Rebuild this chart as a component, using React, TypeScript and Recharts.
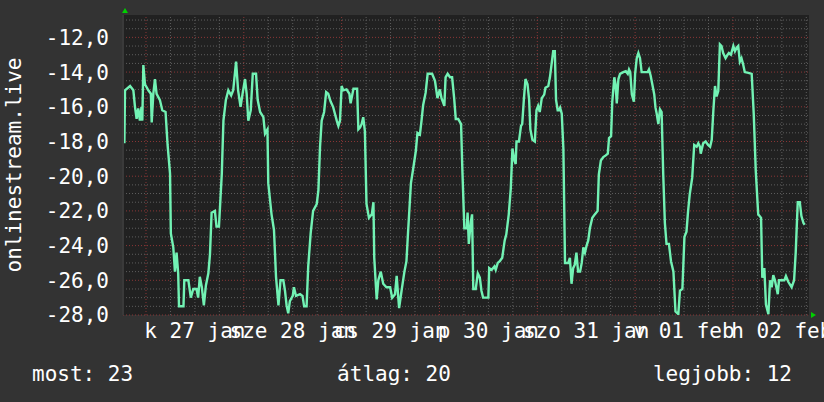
import { LineChart, Line, XAxis, YAxis, CartesianGrid, ReferenceLine, ReferenceDot } from 'recharts';

// hours since 27 jan 00:00
const hours = [
  -5.3, -5.15, -3.9, -3.1, -2.7, -2.3, -1.9, -1.5, -1.1, -0.9, -0.65, -0.25, 0.57, 1.2, 1.4, 1.8, 2.2, 2.6, 3.4, 4.0,
  4.8, 5.3, 5.9, 6.1, 6.7, 7.1, 7.5, 7.9, 8.1, 9.2, 9.4, 10.4, 11.0, 11.6, 12.4, 12.8, 13.2, 13.7, 14.2, 14.7,
  15.3, 15.7, 16.1, 16.9, 17.3, 17.9, 18.2, 18.6, 19.0, 19.6, 20.2, 20.9, 21.4, 22.1, 22.6, 23.2, 23.7, 24.3, 24.7, 25.1,
  25.7, 26.2, 27.0, 27.4, 28.0, 28.8, 29.2, 29.8, 30.0, 30.8, 31.4, 31.9, 32.5, 33.0, 33.7, 34.1, 34.5, 34.9, 35.3, 36.0,
  36.3, 36.8, 37.8, 38.4, 38.8, 39.4, 39.8, 40.4, 41.0, 41.9, 42.3, 42.7, 43.1, 43.7, 44.2, 44.7, 45.3, 45.9, 46.8, 47.2,
  47.6, 48.0, 48.4, 49.2, 49.9, 50.2, 50.9, 51.8, 52.1, 52.5, 52.9, 53.3, 53.7, 54.1, 54.7, 55.4, 55.8, 56.0, 56.6, 57.0,
  57.6, 58.2, 59.0, 59.9, 60.4, 61.1, 61.5, 61.9, 62.1, 62.7, 63.4, 63.9, 64.3, 65.0, 65.6, 66.2, 66.6, 67.2, 67.6, 68.0,
  68.6, 69.1, 69.7, 70.2, 70.9, 71.5, 72.1, 72.5, 73.2, 73.5, 74.0, 74.6, 75.1, 75.6, 76.0, 76.6, 77.3, 77.6, 78.1, 78.7,
  78.9, 79.2, 79.7, 80.0, 80.3, 80.9, 81.4, 81.9, 82.3, 82.7, 83.5, 84.0, 84.2, 84.8, 85.5, 85.8, 86.3, 86.8, 87.4, 88.0,
  88.4, 89.0, 89.5, 89.9, 90.4, 90.7, 90.9, 91.5, 92.0, 92.3, 92.7, 93.1, 93.6, 94.0, 94.3, 94.8, 95.4, 95.8, 96.2, 96.6,
  97.1, 97.7, 98.0, 98.7, 99.1, 99.5, 99.9, 100.3, 100.6, 101.0, 101.3, 101.6, 102.0, 102.4, 102.8, 103.6, 104.0, 104.4, 104.8, 105.2,
  105.6, 106.0, 106.5, 106.9, 107.3, 107.7, 108.1, 108.5, 108.9, 109.5, 110.1, 110.8, 111.1, 111.6, 112.2, 112.8, 113.3, 113.6, 114.1, 114.4,
  114.9, 115.2, 115.5, 115.9, 116.3, 117.1, 117.7, 118.2, 118.5, 118.8, 119.2, 119.7, 120.0, 120.4, 120.8, 121.2, 121.6, 122.4, 123.1, 123.4,
  123.8, 124.3, 124.7, 125.0, 125.3, 125.7, 126.1, 126.5, 126.9, 127.3, 127.7, 128.3, 128.8, 129.4, 129.9, 130.6, 131.0, 131.6, 132.1, 132.6,
  133.0, 133.4, 134.0, 134.5, 135.1, 135.5, 135.9, 136.1, 136.7, 137.3, 137.9, 138.4, 138.8, 139.2, 139.6, 140.0, 140.4, 140.8, 141.2, 141.6,
  142.2, 142.7, 143.0, 143.5, 144.1, 144.5, 144.9, 145.3, 145.7, 146.1, 146.5, 146.9, 147.8, 148.6, 149.1, 149.6, 150.2, 150.9, 151.2, 151.7,
  152.1, 152.7, 153.1, 153.5, 153.9, 154.3, 155.0, 155.3, 155.9, 156.6, 157.0, 157.6, 158.4, 159.0, 159.4, 159.9, 160.4, 160.8, 161.3, 161.6,
];

const values = [
  -18.1, -15.05, -14.8, -15.05, -16.0, -16.7, -16.1, -16.8, -16.0, -16.8, -13.6, -14.7, -15.05, -15.25, -16.9, -15.25, -14.4, -15.25, -15.6, -16.2,
  -16.3, -18.2, -19.85, -23.3, -24.1, -25.5, -24.4, -25.6, -27.5, -27.5, -26.0, -26.0, -27.0, -26.5, -26.5, -27.0, -25.8, -26.4, -27.45, -26.3,
  -25.6, -24.5, -22.1, -22.0, -22.9, -22.9, -21.6, -19.85, -16.8, -15.6, -15.05, -15.35, -15.05, -13.4, -15.05, -16.0, -15.25, -14.4, -15.25, -16.8,
  -16.2, -14.1, -14.1, -15.6, -16.3, -16.6, -17.55, -17.3, -20.4, -22.2, -23.1, -25.8, -27.45, -26.0, -26.0, -26.6, -27.45, -27.9, -27.2, -26.9,
  -26.4, -26.9, -26.8, -26.9, -27.5, -27.5, -25.2, -23.3, -22.0, -21.6, -20.8, -18.3, -16.8, -16.3, -15.15, -15.25, -15.7, -16.0, -16.8, -17.1,
  -16.8, -14.8, -15.05, -15.0, -15.25, -15.8, -14.96, -14.96, -17.3, -17.2, -17.0, -16.6, -17.4, -21.6, -22.4, -22.2, -21.5, -24.7, -27.1, -26.0,
  -25.5, -26.2, -26.4, -26.4, -27.0, -26.8, -25.75, -27.0, -27.6, -26.6, -25.5, -24.9, -23.2, -20.4, -19.5, -18.55, -17.5, -17.6, -16.8, -15.9,
  -15.2, -14.1, -14.1, -14.1, -14.5, -15.5, -15.0, -15.5, -15.95, -14.3, -14.1, -14.3, -14.3, -15.5, -16.7, -16.7, -17.0, -19.5, -23.0, -23.0,
  -22.1, -23.9, -22.6, -22.2, -26.5, -26.5, -25.6, -25.85, -26.6, -27.0, -27.0, -27.0, -25.3, -25.4, -25.2, -25.4, -25.0, -24.9, -24.7, -23.7,
  -23.35, -22.2, -20.7, -18.4, -19.1, -19.3, -18.0, -18.0, -17.1, -17.0, -15.6, -14.4, -14.7, -15.6, -17.3, -17.9, -18.0, -16.2, -15.95, -16.3,
  -15.5, -15.3, -14.9, -14.8, -14.3, -13.55, -12.8, -12.8, -15.6, -16.2, -16.2, -16.05, -16.4, -18.4, -25.0, -25.0, -24.7, -26.2, -25.3, -25.1,
  -24.4, -25.5, -25.5, -25.0, -24.1, -24.4, -24.0, -23.7, -23.0, -22.4, -22.2, -22.0, -19.9, -19.1, -18.9, -18.8, -18.7, -17.8, -17.7, -15.7,
  -14.3, -14.7, -15.8, -14.4, -14.1, -14.0, -13.95, -14.1, -13.85, -14.0, -15.3, -15.7, -14.1, -13.2, -12.9, -13.2, -14.0, -14.0, -14.0, -13.85,
  -14.2, -14.8, -15.3, -16.05, -16.4, -17.0, -16.15, -16.3, -19.9, -22.7, -23.9, -23.9, -24.9, -25.5, -27.8, -27.95, -26.6, -26.5, -23.5, -23.2,
  -22.0, -21.05, -20.1, -18.2, -18.3, -18.1, -18.3, -18.7, -18.1, -18.0, -18.2, -18.3, -17.9, -16.2, -14.8, -15.4, -15.1, -12.4, -12.5, -12.9,
  -13.2, -13.0, -12.9, -13.0, -12.5, -12.8, -12.6, -12.5, -13.4, -13.2, -13.55, -14.0, -14.05, -14.1, -16.4, -19.7, -22.2, -22.4, -25.85, -25.3,
  -27.4, -27.95, -26.0, -26.4, -25.7, -26.0, -26.8, -26.0, -26.0, -26.0, -25.75, -26.1, -26.4, -26.0, -24.4, -21.5, -21.5, -22.3, -22.7, -22.8,
];

const dayTicks = [12, 36, 60, 84, 108, 132, 156];
const dayLabels = ['k 27 jan', 'sze 28 jan', 'cs 29 jan', 'p 30 jan', 'szo 31 jan', 'v 01 feb', 'h 02 feb'];
const midnights = [0, 24, 48, 72, 96, 120, 144];
const yTicks = [-28, -26, -24, -22, -20, -18, -16, -14, -12];

const xDomain: [number, number] = [-5.64, 162.66];
const yDomain: [number, number] = [-28, -10.71];

const data = hours.map((h, i) => ({ h, v: values[i] }));

const quarterDays: number[] = [];
for (let h = 6; h < xDomain[1]; h += 6) if (h % 24 !== 0) quarterDays.push(h);
const halfSteps: number[] = [];
for (let v = -27.5; v < yDomain[1]; v += 0.5) if (v % 2 !== 0) halfSteps.push(v);

// summary row (shown as absolute values like the original)
let area = 0;
for (let i = 1; i < data.length; i++) area += ((data[i].v + data[i - 1].v) / 2) * (data[i].h - data[i - 1].h);
const avg = Math.abs(area / (data[data.length - 1].h - data[0].h));
const last = Math.abs(values[values.length - 1]);
const best = Math.abs(Math.max(...values));

const FONT = '"DejaVu Sans Mono", monospace';
const MINOR = '#5e5e5e';
const MAJOR = '#8a3636';
const ARROW = '#00d000';

const upArrow = ({ cx, cy }: any) => (
  <polygon points={`${cx - 1},${cy - 2} ${cx + 5},${cy - 2} ${cx + 2},${cy - 7}`} fill={ARROW} />
);
const rightArrow = ({ cx, cy }: any) => (
  <polygon points={`${cx + 2},${cy - 3} ${cx + 2},${cy + 3} ${cx + 7},${cy}`} fill={ARROW} />
);

export default function App() {
  return (
    <div style={{ position: 'relative', width: 824, height: 402, background: '#333333', overflow: 'hidden' }}>
      <style>{'body{margin:0}'}</style>
      <LineChart width={824} height={402} data={data} margin={{ top: 15, right: 15, bottom: 57, left: 0 }}>
        <CartesianGrid fill="#212121" horizontal={false} vertical={false} />
        <XAxis
          type="number"
          dataKey="h"
          domain={xDomain}
          allowDataOverflow
          ticks={dayTicks}
          interval={0}
          tickFormatter={(h: number) => dayLabels[dayTicks.indexOf(h)]}
          tick={{ fill: '#ffffff', fontSize: 21, fontFamily: FONT }}
          tickLine={false}
          tickSize={0}
          tickMargin={8}
          axisLine={false}
          height={30}
        />
        <YAxis
          type="number"
          domain={yDomain}
          allowDataOverflow
          ticks={yTicks}
          interval={0}
          tickFormatter={(v: number) => v.toFixed(1).replace('.', ',')}
          tick={{ fill: '#ffffff', fontSize: 21, fontFamily: FONT }}
          tickLine={false}
          tickSize={0}
          tickMargin={14}
          axisLine={{ stroke: '#3a3a3a', strokeWidth: 2 }}
          width={123}
          label={({ viewBox }: any) => {
            const vb = viewBox || { x: 0, y: 15, width: 123, height: 300 };
            const cx = vb.x + 14;
            const cy = vb.y + vb.height / 2;
            return (
              <text
                x={cx}
                y={cy}
                transform={`rotate(-90 ${cx} ${cy})`}
                textAnchor="middle"
                dominantBaseline="central"
                fill="#ffffff"
                fontSize={21}
                fontFamily={FONT}
              >
                onlinestream.live
              </text>
            );
          }}
        />
        {halfSteps.map((v) => (
          <ReferenceLine key={'hy' + v} y={v} stroke={MINOR} strokeDasharray="1 2" />
        ))}
        {quarterDays.map((h) => (
          <ReferenceLine key={'qx' + h} x={h} stroke={MINOR} strokeDasharray="1 2" />
        ))}
        {yTicks.map((v) => (
          <ReferenceLine key={'my' + v} y={v} stroke={MAJOR} strokeDasharray="1 2" />
        ))}
        {midnights.map((h) => (
          <ReferenceLine key={'mx' + h} x={h} stroke={MAJOR} strokeDasharray="1 2" />
        ))}
        <Line
          type="linear"
          dataKey="v"
          stroke="#72f2b4"
          strokeWidth={2.4}
          dot={false}
          activeDot={false}
          isAnimationActive={false}
        />
        <ReferenceDot x={xDomain[0]} y={yDomain[1]} ifOverflow="visible" shape={upArrow} />
        <ReferenceDot x={xDomain[1]} y={yDomain[0]} ifOverflow="visible" shape={rightArrow} />
      </LineChart>
      <svg width={824} height={402} style={{ position: 'absolute', left: 0, top: 0, pointerEvents: 'none' }}>
        <g fill="#ffffff" fontSize={21} fontFamily={FONT}>
          <text x={32} y={381} textAnchor="start">{`most: ${Math.round(last)}`}</text>
          <text x={394} y={381} textAnchor="middle">{`átlag: ${Math.round(avg)}`}</text>
          <text x={792} y={381} textAnchor="end">{`legjobb: ${Math.round(best)}`}</text>
        </g>
      </svg>
    </div>
  );
}
